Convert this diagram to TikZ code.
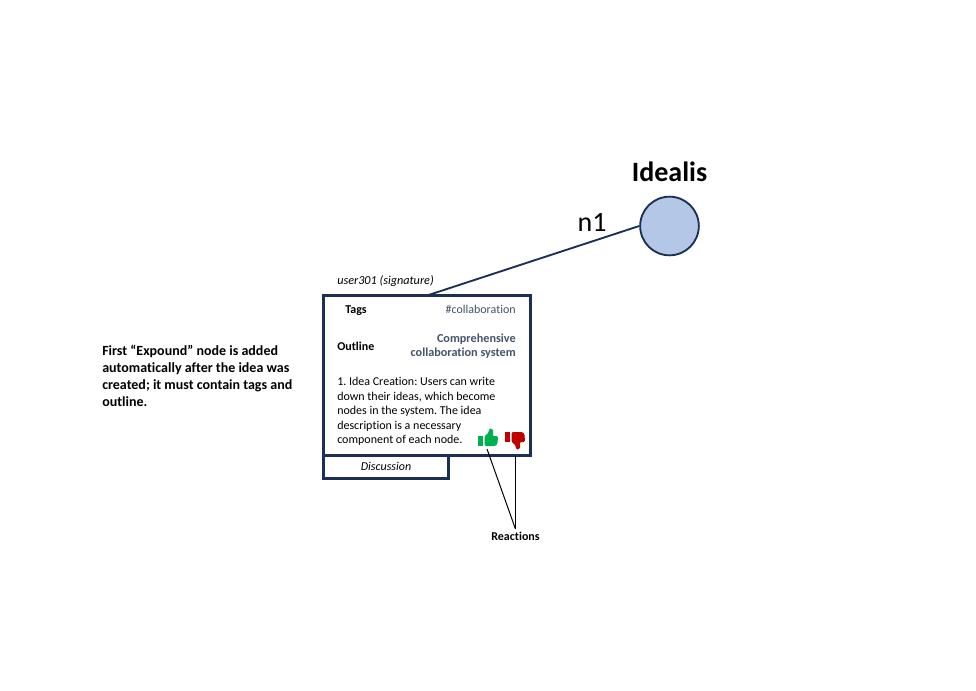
\documentclass[tikz,border=0pt]{standalone}
\usepackage{fontspec}
\setmainfont{Carlito}[Ligatures=NoCommon]
\usetikzlibrary{arrows.meta,positioning}
\definecolor{ideablue}{RGB}{180,199,231}
\definecolor{ideanavy}{RGB}{27,48,84}
\definecolor{tagslate}{RGB}{68,84,106}
\definecolor{likegreen}{RGB}{0,176,80}
\definecolor{hatered}{RGB}{192,0,0}

\begin{document}
\begin{tikzpicture}[x=0.75pt,y=-0.75pt,every node/.append style={execute at begin node=\frenchspacing}]
  \tikzstyle{card}=[draw=ideanavy,line width=2.25pt,outer sep=0pt,fill=white,minimum width=155.25pt,minimum height=120pt,inner sep=0pt]
  \tikzstyle{tab}=[draw=ideanavy,line width=2.25pt,outer sep=0pt,fill=white,minimum width=93.75pt,minimum height=17.25pt,inner sep=0pt,text height=7pt,text depth=2.2pt,font=\fontsize{9}{10}\selectfont\itshape]
  \tikzstyle{idea}=[circle,draw=ideanavy,line width=1.4pt,fill=ideablue,minimum size=44pt,inner sep=0pt]
  \tikzstyle{lbl}=[inner sep=0pt,font=\fontsize{9}{10.9}\selectfont,align=left]
  \tikzstyle{lblb}=[inner sep=0pt,font=\fontsize{9}{10.9}\selectfont\bfseries,align=left]
  \tikzstyle{val}=[inner sep=0pt,font=\fontsize{9}{10.5}\selectfont,align=right,text=tagslate]
  \tikzstyle{f}=[black,line width=0.75pt]
  \tikzset{thumb/.pic={
    \fill (0,0) rectangle (5,-10);
    \fill[rounded corners=1pt] (6.5,0) -- (6.5,-10) -- (10.5,-13) -- (11,-17.5) -- (15,-17) -- (15,-12) -- (14.5,-10)
      -- (20,-10) -- (19.5,-2) -- (17.5,0) -- cycle;
  }}

  \useasboundingbox (0,0) rectangle (976,690);

  % -- Idea circle --
  \node[idea] (idealis) at (669.5,226) {};
  \node[inner sep=0pt,font=\fontsize{21}{24}\selectfont\bfseries] (title) at (669.5,172) {Idealis};
  \node[inner sep=0pt,font=\fontsize{21}{24}\selectfont] (n1) at (592,222) {n1};

  % -- Expound card --
  \node[card] (expound) at (427,375.5) {};
  \node[tab,anchor=north west] (discussion) at (323.5,455.5) {Discussion};
  \draw[ideanavy,line width=1.4pt] (expound.north) -- (idealis.west);
  \node[lbl,anchor=west,font=\fontsize{9.15}{10}\selectfont\itshape] (signature) at (337,281) {user301 (signature)};

  % -- Card contents --
  \node[lblb] (tags) at (356,311) {Tags};
  \node[val,anchor=east] (hashtag) at (516,309) {\#collaboration};
  \node[lblb,anchor=west] (outline) at (337,346) {Outline};
  \node[val,anchor=east,font=\fontsize{9.15}{10.5}\selectfont\bfseries] (summary) at (516,346)
    {Comprehensive\\ collaboration system};
  \node[lbl,anchor=north west] (body) at (337,377)
    {1. Idea Creation: Users can write\\ down their ideas, which become\\ nodes in the system. The idea\\
     description is a necessary\\ component of each node.};

  % -- Reactions --
  \pic[likegreen] at (478,446) {thumb};
  \pic[hatered,yscale=-1] at (505,432) {thumb};
  \coordinate (thumbup) at (487,449);
  \coordinate (thumbdown) at (515.5,456);
  \node[lblb,outer ysep=2pt] (reactions) at (515.5,536) {Reactions};
  \draw[f] (thumbup) -- (reactions.north);
  \draw[f] (thumbdown) -- (reactions.north);

  % -- Side note --
  \node[inner sep=0pt,anchor=west,align=left,font=\fontsize{10.5}{12.75}\selectfont\bfseries] (note) at (102,376)
    {First “Expound” node is added\\ automatically after the idea was\\ created; it must contain tags and\\ outline.};
\end{tikzpicture}
\end{document}
